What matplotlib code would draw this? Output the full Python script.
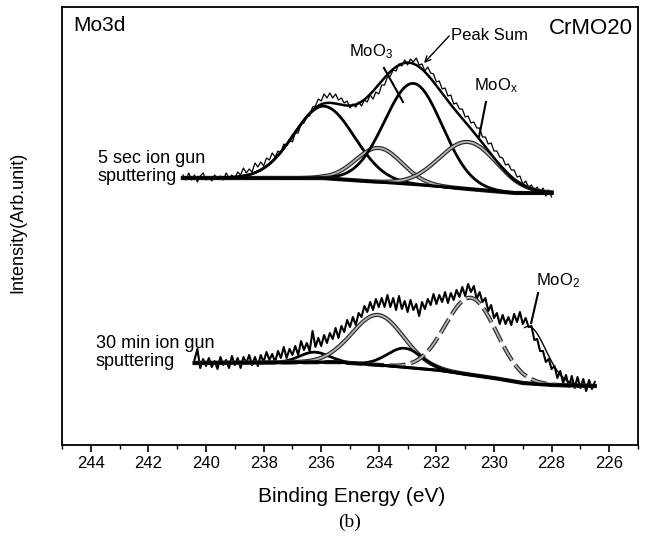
import numpy as np
import matplotlib
matplotlib.use('Agg')
import matplotlib.pyplot as plt
import matplotlib.patheffects as pe

plt.rcParams['font.family'] = ['Liberation Sans', 'DejaVu Sans']
plt.rcParams['mathtext.fontset'] = 'custom'
plt.rcParams['mathtext.rm'] = 'Liberation Sans'
plt.rcParams['mathtext.it'] = 'Liberation Sans:italic'
plt.rcParams['mathtext.default'] = 'regular'

# ---------------- data (binding energy in eV, intensity in arb. units) ----------------
top_start_ev = 240.8
top_step_ev = 0.1
top_counts = [270, 265, 272, 265, 270, 263, 269, 272, 265, 268,
              264, 270, 266, 269, 265, 272, 267, 270, 267, 273,
              270, 277, 272, 276, 273, 282, 278, 283, 279, 287,
              285, 292, 288, 294, 292, 301, 299, 305, 303, 312,
              312, 321, 322, 329, 329, 338, 339, 346, 344, 351,
              347, 352, 347, 351, 345, 347, 342, 344, 337, 341,
              338, 343, 339, 345, 343, 350, 346, 353, 351, 360,
              360, 368, 369, 375, 374, 381, 379, 385, 380, 386,
              383, 387, 380, 381, 374, 378, 372, 371, 363, 364,
              356, 357, 349, 350, 341, 342, 336, 336, 328, 329,
              322, 323, 317, 317, 308, 308, 301, 302, 294, 294,
              288, 287, 280, 281, 275, 275, 268, 269, 261, 264,
              258, 260, 254, 258, 252, 257, 249, 255, 248]

bot_start_ev = 240.4
bot_step_ev = 0.1
bot_counts = [85, 96, 77, 86, 79, 87, 78, 84, 76, 88,
              80, 85, 77, 89, 80, 87, 77, 88, 82, 90,
              80, 88, 79, 90, 83, 93, 85, 91, 83, 94,
              87, 98, 87, 96, 90, 99, 90, 104, 95, 102,
              94, 114, 98, 107, 99, 110, 102, 112, 106, 117,
              107, 119, 113, 125, 118, 128, 120, 132, 128, 139,
              133, 143, 135, 146, 138, 147, 138, 150, 138, 147,
              135, 149, 136, 144, 133, 145, 135, 141, 129, 143,
              136, 146, 140, 151, 141, 150, 143, 153, 142, 152,
              145, 155, 148, 158, 149, 161, 153, 159, 146, 153,
              143, 147, 134, 140, 127, 132, 121, 130, 121, 128,
              120, 131, 123, 133, 121, 127, 118, 119, 105, 106,
              94, 94, 83, 86, 76, 79, 67, 74, 62, 70,
              58, 69, 57, 68, 57, 66, 54, 65, 56, 63]

# backgrounds
top_bg_ev = [240.8, 236.0, 234.0, 232.5, 230.5, 229.3, 228.0]
top_bg = [267, 267, 263, 260, 255, 252, 252]
bot_bg_ev = [240.4, 235.5, 234.0, 232.0, 230.0, 229.0, 228.0, 226.5]
bot_bg = [82, 83, 80, 75, 67, 62, 60, 59]

# fitted components: centre (eV), height, width (sigma, eV)
top_center = [235.9, 234.0, 232.8, 230.9]
top_height = [72, 34, 101, 47]
top_sigma = [1.05, 0.8, 1.0, 1.0]

bot_center = [236.25, 234.03, 233.1, 230.8, 228.8]
bot_height = [10, 50, 19, 77, 57]
bot_sigma = [0.5, 0.89, 0.6, 0.88, 0.6]
mo2_drawn_below_ev = 228.95

tick_values = [244, 242, 240, 238, 236, 234, 232, 230, 228, 226]

# ---------------- figure ----------------
fig = plt.figure(figsize=(6.53, 5.44), dpi=100)
ax = fig.add_axes([62 / 653, 1 - 445 / 544, (638 - 62) / 653, (445 - 7) / 544])

def energies(start, step, n):
    return np.round(start - step * np.arange(n), 2)

top_ev = energies(top_start_ev, top_step_ev, len(top_counts))
bot_ev = energies(bot_start_ev, bot_step_ev, len(bot_counts))

gray_fx = [pe.Stroke(linewidth=3.0, foreground='#2a2a2a'), pe.Normal()]

# ---- top spectrum ----
xt = np.linspace(top_ev[0], top_ev[-1], 600)
bgt = np.interp(xt, top_bg_ev[::-1], top_bg[::-1])
ax.plot(top_ev, top_counts, color='black', lw=0.9)
comps_t = []
for c, h, s in zip(top_center, top_height, top_sigma):
    comps_t.append(h * np.exp(-(xt - c) ** 2 / (2 * s ** 2)))
top_styles = ['black', 'gray', 'black', 'gray']
for comp, st in zip(comps_t, top_styles):
    if st == 'black':
        ax.plot(xt, bgt + comp, color='black', lw=2.0)
    else:
        ax.plot(xt, bgt + comp, color='#b4b4b4', lw=1.3, path_effects=gray_fx)
ax.plot(xt, bgt, color='black', lw=2.2)
ax.plot(xt, bgt + np.sum(comps_t, axis=0), color='black', lw=1.8)

# ---- bottom spectrum ----
xb = np.linspace(bot_ev[0], bot_ev[-1], 600)
bgb = np.interp(xb, bot_bg_ev[::-1], bot_bg[::-1])
ax.plot(bot_ev, bot_counts, color='black', lw=1.5)
bot_styles = ['black', 'gray', 'black', 'graydash', 'thin']
for c, h, s, st in zip(bot_center, bot_height, bot_sigma, bot_styles):
    y = bgb + h * np.exp(-(xb - c) ** 2 / (2 * s ** 2))
    if st == 'black':
        ax.plot(xb, y, color='black', lw=2.0)
    elif st == 'gray':
        ax.plot(xb, y, color='#b4b4b4', lw=1.3, path_effects=gray_fx)
    elif st == 'graydash':
        ax.plot(xb, y, color='#b4b4b4', lw=1.3, dashes=(9, 3), path_effects=gray_fx)
    else:
        m = xb <= mo2_drawn_below_ev
        ax.plot(xb[m], y[m], color='black', lw=1.0)
ax.plot(xb, bgb, color='black', lw=2.2)

# ---- axes ----
ax.set_xlim(245, 225)
ax.set_ylim(0, 438)
ax.set_yticks([])
ax.set_xticks(tick_values)
ax.set_xticks([v - 1 for v in tick_values] + [245], minor=True)
ax.set_xticklabels([str(v) for v in tick_values])
ax.tick_params(axis='x', which='major', direction='out', length=5, width=1.2, labelsize=12, pad=3)
ax.tick_params(axis='x', which='minor', direction='out', length=3, width=1.0)
for sp in ax.spines.values():
    sp.set_linewidth(1.3)

# ---- texts ----
ax.text(0.019, 0.958, 'Mo3d', transform=ax.transAxes, fontsize=15, ha='left', va='center')
ax.text(0.991, 0.952, 'CrMO20', transform=ax.transAxes, fontsize=16, ha='right', va='center')
ax.text(243.76, 295, '5 sec ion gun\nsputtering', fontsize=13, ha='left', va='top', linespacing=1.05)
ax.text(243.83, 110, '30 min ion gun\nsputtering', fontsize=13, ha='left', va='top', linespacing=1.05)

ax.text(231.49, 410, 'Peak Sum', fontsize=12, ha='left', va='center')
ax.annotate('', xy=(232.43, 382), xytext=(231.56, 409),
            arrowprops=dict(arrowstyle='->', color='black', lw=1.0, shrinkA=0, shrinkB=0))
ax.text(235.04, 393, 'MoO$_3$', fontsize=12, ha='left', va='center')
ax.plot([233.82, 233.16], [377, 343], color='black', lw=1.5)
ax.text(230.69, 359, 'MoO$_x$', fontsize=12, ha='left', va='center')
ax.plot([230.28, 230.52], [343, 308], color='black', lw=1.5)
ax.text(228.54, 164, 'MoO$_2$', fontsize=12, ha='left', va='center')
ax.plot([228.47, 228.71], [152, 122], color='black', lw=1.5)

fig.text(18 / 653, 1 - 222 / 544, 'Intensity(Arb.unit)', rotation=90, fontsize=13,
         ha='center', va='center')
fig.text(352 / 653, 1 - 497 / 544, 'Binding Energy (eV)', fontsize=15, ha='center', va='center')
fig.text(350 / 653, 1 - 522 / 544, '(b)', fontsize=14, ha='center', va='center',
         family=['Liberation Serif', 'DejaVu Serif'])

fig.savefig('out.png', dpi=100)
